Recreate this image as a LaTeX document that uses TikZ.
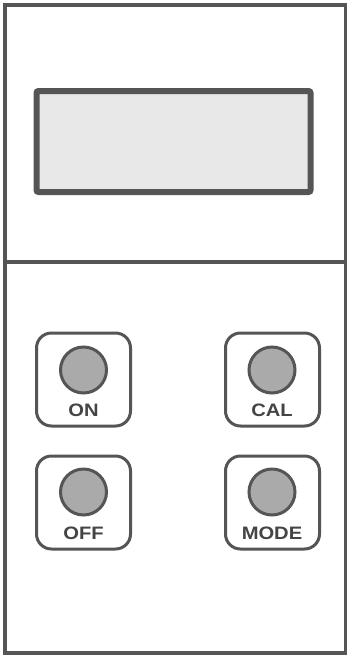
\documentclass[tikz,border=0pt]{standalone}
\usepackage{fontspec}
\setmainfont{Liberation Sans}
\definecolor{edge}{HTML}{555555}
\definecolor{lcd}{HTML}{E8E8E8}
\definecolor{knob}{HTML}{AAAAAA}
\definecolor{txt}{HTML}{444444}
\begin{document}
\begin{tikzpicture}[x=1pt,y=-1pt,
  frame/.style={draw=edge,line width=3.5pt},
  lcdbox/.style={draw=edge,fill=lcd,line width=6pt,rounded corners=2pt},
  keybox/.style={draw=edge,line width=3pt,rounded corners=15pt,minimum width=94pt,minimum height=93pt},
  knobc/.style={draw=edge,fill=knob,line width=3pt,circle,minimum size=46pt,inner sep=0pt},
  keylabel/.style={text=txt,font=\bfseries\fontsize{18}{18}\selectfont,inner sep=0pt,xscale=1.12}]
\useasboundingbox (0,0) rectangle (348,657);
\fill[white] (0,0) rectangle (348,657);
\draw[frame] (5,5) rectangle (345.5,653);
\draw[frame] (5,262) -- (345.5,262);
\node[lcdbox,minimum width=274pt,minimum height=101pt] (display) at (173.5,141.5) {};
% keys
\node[keybox] (onbox) at (83.5,379.5) {};
\node[knobc] (onknob) at (83.5,370) {};
\node[keylabel] (onlabel) at (83.5,410) {ON};
\node[keybox] (calbox) at (272.5,379.5) {};
\node[knobc] (calknob) at (272,370) {};
\node[keylabel] (callabel) at (272,410) {CAL};
\node[keybox] (offbox) at (83.5,502.5) {};
\node[knobc] (offknob) at (83.5,492) {};
\node[keylabel] (offlabel) at (83.5,533) {OFF};
\node[keybox] (modebox) at (272.5,502.5) {};
\node[knobc] (modeknob) at (272,492) {};
\node[keylabel] (modelabel) at (272,533) {MODE};
\end{tikzpicture}
\end{document}
